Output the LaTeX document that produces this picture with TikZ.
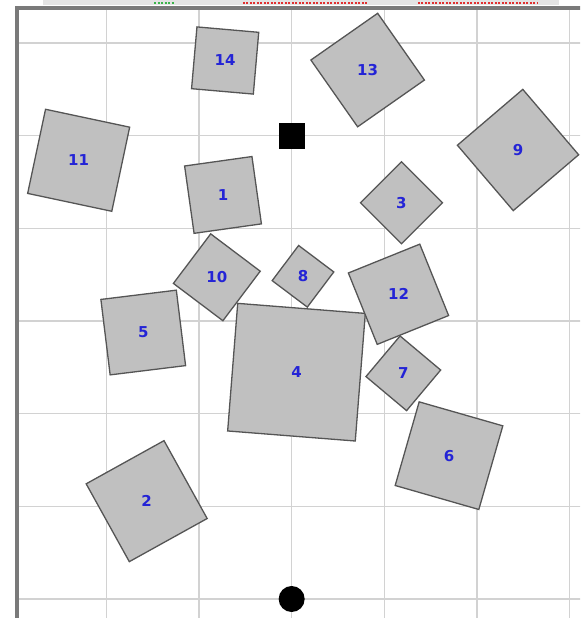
\documentclass[tikz,border=0pt]{standalone}
\usepackage{fontspec}
\newfontfamily\labelfont{DejaVu Sans}
\usepackage{xcolor}
\usepackage{tikz}
\definecolor{obstaclegray}{HTML}{C0C0C0}
\definecolor{obstacleedge}{HTML}{555555}
\definecolor{labelblue}{HTML}{2424D6}
\definecolor{gridgray}{HTML}{D2D2D2}
\definecolor{framegray}{HTML}{7A7A7A}
\definecolor{stripgray}{HTML}{E4E4E4}
\definecolor{stripgreen}{HTML}{3CB44B}
\definecolor{stripred}{HTML}{E03030}
\tikzset{
  gridline/.style={gridgray, line width=1.4pt},
  frameline/.style={framegray, line width=3.5pt},
  stripmark/.style={line width=1.5pt, dash pattern=on 2pt off 1.5pt},
  obstacle/.style={draw=obstacleedge, fill=obstaclegray, line width=1.3pt, inner sep=0pt, outer sep=0pt},
  obstaclelabel/.style={text=labelblue, font=\labelfont\bfseries\fontsize{15}{15}\selectfont, inner sep=0pt},
  goalbox/.style={fill=black, minimum size=26pt, inner sep=0pt},
  startdot/.style={circle, fill=black, minimum size=26pt, inner sep=0pt}
}

\begin{document}
\begin{tikzpicture}[x=92.65pt, y=92.65pt]
  \useasboundingbox (-3.148,-0.205) rectangle (3.112,6.465);
  \clip (-3.148,-0.205) rectangle (3.112,6.465);
  % strip at the top
  \fill[stripgray] (-2.689,6.416) rectangle (2.885,6.465);
  \draw[stripmark, stripgreen] (-1.485,6.433) -- (-1.27,6.433);
  \draw[stripmark, stripred] (-0.526,6.433) -- (0.824,6.433);
  \draw[stripmark, stripred] (1.363,6.433) -- (2.648,6.433);
  % grid and frame
  \draw[gridline, step=1] (-2.965,-0.5) grid (3.5,6.376);
  \draw[frameline] (-2.965,-0.5) rectangle (3.5,6.376);
  % obstacles
  \foreach \n/\x/\y/\s/\a in {1/-0.741/4.361/68/8, 2/-1.565/1.056/89/29,
      3/1.185/4.277/58/45, 4/0.052/2.448/128/-4.5, 5/-1.602/2.876/76/7,
      6/1.698/1.547/87/-16, 7/1.205/2.436/53/50, 8/0.122/3.483/44/53,
      9/2.443/4.846/86/40.5, 10/-0.808/3.472/62/-37, 11/-2.299/4.735/86/-12,
      12/1.153/3.289/77/22, 13/0.820/5.709/81.5/35, 14/-0.718/5.812/62/-5}{
    \node[obstacle, minimum size=\s pt, rotate=\a] (obs\n) at (\x,\y) {};
    \node[obstaclelabel] (lbl\n) at (obs\n.center) {\n};
  }
  % goal and start
  \node[goalbox] (goal) at (0,5) {};
  \node[startdot] (start) at (0,0) {};
\end{tikzpicture}
\end{document}
